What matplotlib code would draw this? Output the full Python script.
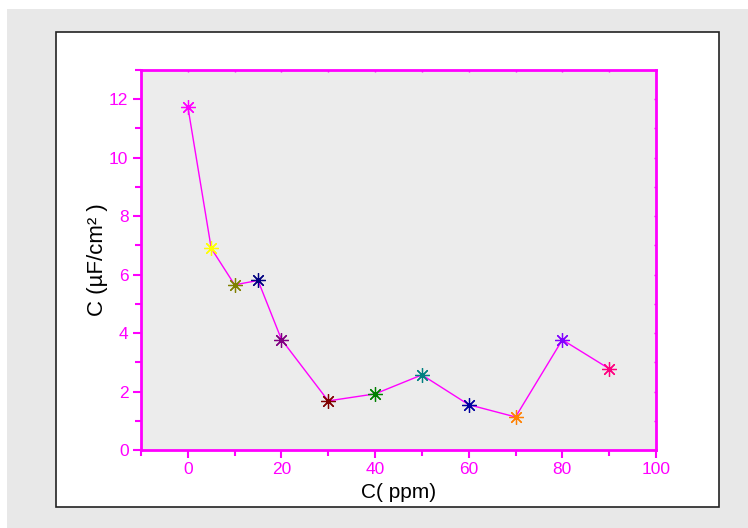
import matplotlib
matplotlib.use("Agg")
import matplotlib.pyplot as plt
from matplotlib.patches import Rectangle
from matplotlib.ticker import MultipleLocator

conc = [0, 5, 10, 15, 20, 30, 40, 50, 60, 70, 80, 90]
cap = [11.75, 6.9, 5.65, 5.8, 3.78, 1.68, 1.92, 2.57, 1.55, 1.13, 3.77, 2.78]
colors = ["#FF00FF", "#FFFF00", "#808000", "#000080", "#800080", "#800000",
          "#008000", "#008080", "#0000A0", "#FF8000", "#8000FF", "#FF0080"]
xticks = [0, 20, 40, 60, 80, 100]
yticks = [0, 2, 4, 6, 8, 10, 12]

W, H = 748, 528
fig = plt.figure(figsize=(W / 100, H / 100), dpi=100, facecolor="white")
# gray outer background
fig.patches.append(Rectangle((7 / W, 0), 1, 1 - 9 / H, transform=fig.transFigure,
                             facecolor="#E8E8E8", edgecolor="none", zorder=-10))
# white panel with black frame
fig.patches.append(Rectangle((56 / W, 1 - 507 / H), (719 - 56) / W, (507 - 32) / H,
                             transform=fig.transFigure, facecolor="white",
                             edgecolor="#222222", linewidth=1.2, zorder=-5))

ax = fig.add_axes([141 / W, 1 - 450 / H, (656 - 141) / W, (450 - 70) / H])
ax.set_facecolor("#ECECEC")
ax.plot(conc, cap, color="#FF00FF", lw=1.0, zorder=2)
for x, y, c in zip(conc, cap, colors):
    ax.plot([x], [y], linestyle="none", marker=(8, 2, 0), markersize=10.5,
            markeredgewidth=0.9, color=c, zorder=3)

ax.set_xlim(-10, 100)
ax.set_ylim(0, 13)
ax.set_xticks(xticks)
ax.set_yticks(yticks)
ax.xaxis.set_minor_locator(MultipleLocator(10))
ax.yaxis.set_minor_locator(MultipleLocator(1))

mag = "#FF00FF"
for s in ax.spines.values():
    s.set_color(mag)
    s.set_linewidth(2)

sans = ["Liberation Sans", "DejaVu Sans"]
ax.tick_params(which="both", colors=mag, width=1.5, direction="out")
ax.tick_params(which="major", length=6, labelsize=12.5, pad=3)
ax.tick_params(which="minor", length=4)
ax.tick_params(which="both", top=True, right=True)
for lab in ax.get_xticklabels() + ax.get_yticklabels():
    lab.set_family(sans)
    lab.set_color(mag)

# tiny inward ticks on top/right
for t in ax.xaxis.get_major_ticks() + ax.xaxis.get_minor_ticks():
    t.tick2line.set_marker(matplotlib.markers.TICKDOWN)
    t.tick2line.set_markersize(1.5)
    t.tick2line.set_markeredgewidth(1)
for t in ax.yaxis.get_major_ticks() + ax.yaxis.get_minor_ticks():
    t.tick2line.set_marker(matplotlib.markers.TICKLEFT)
    t.tick2line.set_markersize(1.5)
    t.tick2line.set_markeredgewidth(1)

ax.set_xlabel("C( ppm)", family=sans, fontsize=15, color="black", labelpad=4)
ax.set_ylabel("C (µF/cm² )", family=sans, fontsize=16, color="black", labelpad=1)

fig.savefig("out.png", dpi=100, facecolor=fig.get_facecolor())
